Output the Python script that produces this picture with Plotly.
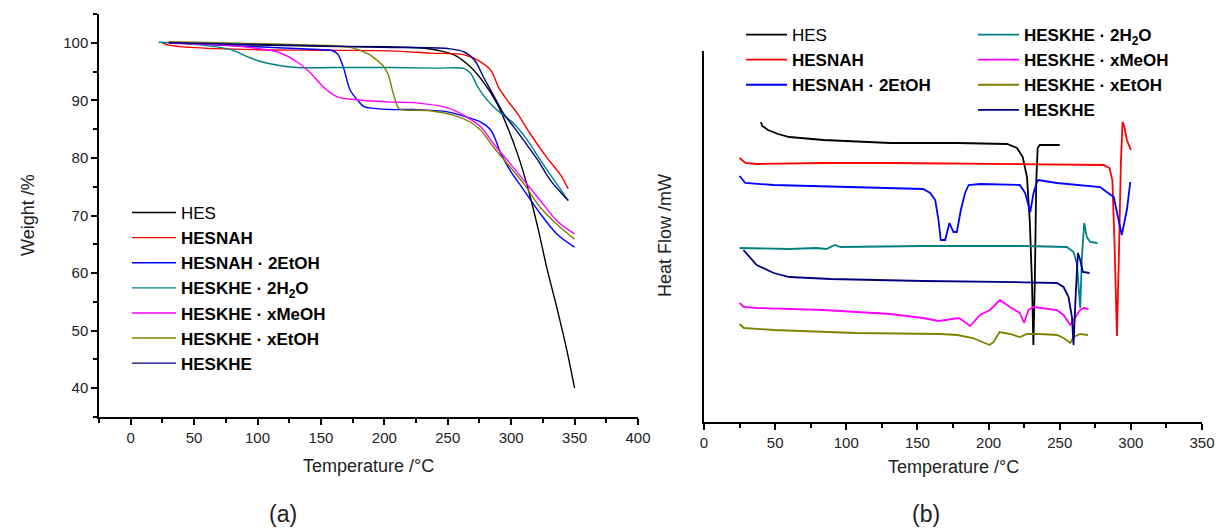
import plotly.graph_objects as go

W, H = 1216, 530

# ---------------- (a) TGA data: temperature (°C) / weight (%) ----------------
hes_T = [31, 60, 100, 150, 200, 230, 242, 255, 268, 278, 289, 297, 305, 313, 321, 328, 336, 344, 350]
hes_W = [100.0, 99.8, 99.6, 99.4, 99.3, 99.1, 98.7, 97.9, 95.8, 93.2, 89.4, 85.4, 80.7, 74.9, 67.9, 61.0, 54.0, 46.5, 40.0]

hesnah_T = [25, 30, 47, 100, 150, 205, 236, 263, 276, 284, 290, 297, 305, 315, 328, 339, 345]
hesnah_W = [100.0, 99.6, 99.2, 98.8, 98.7, 98.6, 98.2, 97.9, 96.7, 95.2, 92.3, 90.0, 87.7, 84.2, 80.1, 77.0, 74.6]

hesnah2etoh_T = [30, 100, 152, 158, 163, 168, 173, 179, 184, 192, 205, 223, 250, 265, 276, 284, 292, 299, 310, 323, 336, 350]
hesnah2etoh_W = [100.0, 99.3, 98.8, 98.7, 98.1, 95.5, 91.8, 90.0, 88.9, 88.6, 88.4, 88.4, 88.0, 87.1, 86.2, 84.8, 80.7, 77.9, 74.4, 70.3, 66.8, 64.5]

heskhe2h2o_T = [22, 40, 68, 79, 92, 103, 116, 131, 160, 205, 240, 263, 268, 273, 278, 286, 294, 302, 313, 323, 334, 345]
heskhe2h2o_W = [100.1, 99.9, 99.3, 98.8, 97.6, 96.7, 96.1, 95.7, 95.7, 95.7, 95.6, 95.5, 94.7, 92.6, 90.9, 88.9, 87.4, 86.0, 83.0, 79.6, 76.1, 72.6]

heskhemeoh_T = [30, 74, 100, 116, 131, 142, 152, 163, 179, 205, 223, 250, 265, 276, 286, 297, 310, 323, 336, 350]
heskhemeoh_W = [99.9, 99.6, 99.0, 98.4, 96.7, 94.7, 92.3, 90.6, 90.1, 89.7, 89.6, 88.7, 87.1, 85.4, 82.5, 79.6, 76.1, 72.6, 69.1, 66.8]

heskheetoh_T = [30, 126, 173, 187, 194, 199, 203, 207, 211, 213, 236, 255, 268, 276, 286, 297, 310, 323, 336, 350]
heskheetoh_W = [100.2, 99.7, 99.2, 98.1, 97.0, 96.0, 94.5, 91.2, 88.7, 88.4, 88.2, 87.4, 86.2, 84.8, 81.9, 79.0, 75.5, 71.4, 68.5, 65.9]

heskhe_T = [30, 126, 197, 250, 263, 271, 278, 286, 294, 302, 310, 321, 331, 345]
heskhe_W = [100.0, 99.6, 99.2, 99.0, 98.4, 97.0, 94.1, 90.9, 87.7, 85.4, 83.0, 79.6, 76.1, 72.6]

# ---------------- (b) DSC data: temperature (°C) / heat flow (arb. mW, offset) ----------------
d_hes_T = [40, 41, 45, 52, 60, 84, 131, 178, 213, 220, 224, 227, 229, 230.5, 231.5, 232.5, 233.5, 234.5, 236, 250]
d_hes_Q = [30.0, 29.6, 29.2, 28.8, 28.5, 28.2, 27.9, 27.9, 27.8, 27.4, 26.5, 24.5, 20.0, 14.0, 7.7, 14.0, 24.0, 27.4, 27.7, 27.7]

d_hesnah_T = [25, 29, 37, 84, 131, 178, 225, 270, 281, 285, 287, 288.5, 290.2, 291.5, 293, 294.2, 295.5, 297.2, 300]
d_hesnah_Q = [26.4, 25.9, 25.8, 25.9, 25.9, 25.85, 25.8, 25.75, 25.7, 25.4, 24.2, 18.0, 8.6, 16.0, 26.0, 30.0, 29.5, 28.2, 27.2]

d_hesnah2etoh_T = [25, 29, 49, 107, 154, 159, 162.5, 164.8, 166.4, 169.5, 172.5, 175.3, 177.7, 180.5, 183.5, 186, 194, 222, 225.7, 229.3,
                   231.6, 234, 235, 248, 278.5, 283, 288, 293.6, 297.2, 299.6]
d_hesnah2etoh_Q = [24.6, 23.9, 23.7, 23.5, 23.3, 22.9, 22.2, 20.2, 18.2, 18.2, 19.9, 19.0, 19.0, 21.2, 22.9, 23.7, 23.8, 23.7, 22.9, 21.0,
                   22.9, 24.0, 24.2, 23.9, 23.5, 23.0, 22.5, 18.7, 21.2, 24.0]

d_heskhe2h2o_T = [25, 60, 79, 86, 92, 96, 154, 225, 255, 259.7, 262, 264.4, 265.6, 267.2, 269, 271.4, 276.6]
d_heskhe2h2o_Q = [17.4, 17.3, 17.4, 17.3, 17.7, 17.5, 17.6, 17.6, 17.5, 17.0, 15.9, 11.4, 16.5, 19.9, 18.5, 18.0, 17.9]

d_heskhemeoh_T = [25, 28, 37, 84, 131, 154, 165, 179, 182.4, 187, 194, 201, 208, 215, 222, 225, 228, 231.6, 248, 252.7, 257.4, 264.4, 266.8, 270.3]
d_heskhemeoh_Q = [11.9, 11.5, 11.4, 11.2, 10.8, 10.4, 10.1, 10.4, 10.1, 9.6, 10.7, 11.2, 12.2, 11.5, 10.9, 9.9, 11.2, 11.5, 11.2, 10.7, 9.7, 11.2, 11.4, 11.3]

d_heskheetoh_T = [25, 28, 49, 107, 166, 178, 189, 196, 200.7, 203.5, 207.7, 215, 222, 227, 236, 248, 252.7, 257.4, 259.7, 264.4, 269.8]
d_heskheetoh_Q = [9.8, 9.4, 9.2, 8.9, 8.8, 8.7, 8.4, 8.0, 7.7, 8.0, 9.0, 8.8, 8.5, 8.8, 8.8, 8.7, 8.4, 7.9, 8.5, 8.8, 8.7]

d_heskhe_T = [27.7, 37, 49, 60, 89, 154, 225, 248, 252.7, 256.2, 258.6, 259.7, 261.4, 262.8, 264.4, 266.3, 271]
d_heskhe_Q = [17.2, 15.7, 14.9, 14.5, 14.3, 14.1, 13.97, 13.9, 13.5, 12.5, 10.5, 7.7, 13.2, 16.9, 16.2, 15.0, 14.9]

names = ["HES", "<b>HESNAH</b>", "<b>HESNAH · 2EtOH</b>", "<b>HESKHE · 2H<sub>2</sub>O</b>",
         "<b>HESKHE · xMeOH</b>", "<b>HESKHE · xEtOH</b>", "<b>HESKHE</b>"]
colors = ["#000000", "#ff0000", "#0000ff", "#008080", "#ff00ff", "#808000", "#000080"]

tga = [(hes_T, hes_W), (hesnah_T, hesnah_W), (hesnah2etoh_T, hesnah2etoh_W), (heskhe2h2o_T, heskhe2h2o_W),
       (heskhemeoh_T, heskhemeoh_W), (heskheetoh_T, heskheetoh_W), (heskhe_T, heskhe_W)]
dsc = [(d_hes_T, d_hes_Q), (d_hesnah_T, d_hesnah_Q), (d_hesnah2etoh_T, d_hesnah2etoh_Q), (d_heskhe2h2o_T, d_heskhe2h2o_Q),
       (d_heskhemeoh_T, d_heskhemeoh_Q), (d_heskheetoh_T, d_heskheetoh_Q), (d_heskhe_T, d_heskhe_Q)]

FONT = "Liberation Sans, Arial, sans-serif"
fig = go.Figure()

for i, (t, w) in enumerate(tga):
    fig.add_trace(go.Scatter(x=t, y=w, mode="lines", name=names[i], xaxis="x", yaxis="y",
                             line=dict(color=colors[i], width=1.4), legend="legend",
                             line_shape="spline"))

for i, (t, q) in enumerate(dsc):
    fig.add_trace(go.Scatter(x=t, y=q, mode="lines", name=names[i], xaxis="x2", yaxis="y2",
                             line=dict(color=colors[i], width=1.8),
                             legend="legend2" if i < 3 else "legend3"))

def px_x(p):
    return p / W

def px_y(p):
    return (H - p) / H

axis_common = dict(showline=True, linecolor="black", linewidth=1.5, mirror=False, showgrid=False,
                   zeroline=False, ticks="outside", tickcolor="black", tickwidth=1.5, automargin=False,
                   tickfont=dict(family=FONT, size=15, color="#222"))

LEG_FONT = dict(family=FONT, size=17, color="black")

fig.update_layout(
    width=W, height=H, margin=dict(l=0, r=0, t=0, b=0, pad=0, autoexpand=False),
    paper_bgcolor="white", plot_bgcolor="white",
    xaxis=dict(domain=[px_x(99), px_x(638)], range=[-25, 400], anchor="y", dtick=50, tick0=0, ticklen=6,
               minor=dict(dtick=25, tick0=0, ticklen=4, ticks="outside", tickcolor="black", tickwidth=1.5),
               **axis_common),
    yaxis=dict(domain=[px_y(417), px_y(14)], range=[35, 105], anchor="x", dtick=10, tick0=0, ticklen=6,
               minor=dict(dtick=5, tick0=0, ticklen=4, ticks="outside", tickcolor="black", tickwidth=1.5),
               **axis_common),
    xaxis2=dict(domain=[px_x(704), px_x(1202)], range=[0, 350], anchor="y2", dtick=50, tick0=0, ticklen=6,
                minor=dict(dtick=25, tick0=0, ticklen=4, ticks="outside", tickcolor="black", tickwidth=1.5),
                **axis_common),
    yaxis2=dict(domain=[px_y(422), px_y(51)], range=[0, 37.1], anchor="x2", showline=True, linecolor="black",
                linewidth=1.5, showgrid=False, zeroline=False, ticks="", showticklabels=False, automargin=False),
    legend=dict(x=px_x(127), y=px_y(195), xanchor="left", yanchor="top", bgcolor="rgba(0,0,0,0)",
                font=LEG_FONT, tracegroupgap=0, itemwidth=44),
    legend2=dict(x=px_x(741), y=px_y(17), xanchor="left", yanchor="top", bgcolor="rgba(0,0,0,0)",
                 font=LEG_FONT, itemwidth=41),
    legend3=dict(x=px_x(973), y=px_y(17), xanchor="left", yanchor="top", bgcolor="rgba(0,0,0,0)",
                 font=LEG_FONT, itemwidth=41),
    showlegend=True,
)

ann = dict(xref="paper", yref="paper", showarrow=False, font=dict(family=FONT, size=18, color="#222"))
fig.add_annotation(x=px_x(368), y=px_y(466), text="Temperature /°C", xanchor="center", yanchor="middle", **ann)
fig.add_annotation(x=px_x(953), y=px_y(467), text="Temperature /°C", xanchor="center", yanchor="middle", **ann)
fig.add_annotation(x=px_x(28), y=px_y(215), text="Weight /%", textangle=-90, xanchor="center", yanchor="middle", **ann)
fig.add_annotation(x=px_x(665), y=px_y(236), text="Heat Flow /mW", textangle=-90, xanchor="center", yanchor="middle", **ann)
fig.add_annotation(x=px_x(283), y=px_y(514), text="(a)", xanchor="center", yanchor="middle",
                   xref="paper", yref="paper", showarrow=False, font=dict(family=FONT, size=23, color="#222"))
fig.add_annotation(x=px_x(926), y=px_y(514), text="(b)", xanchor="center", yanchor="middle",
                   xref="paper", yref="paper", showarrow=False, font=dict(family=FONT, size=23, color="#222"))

fig.write_html("out.html", config={"displayModeBar": False, "responsive": False},
               default_width="1216px", default_height="530px",
               post_script="document.body.style.margin='0';document.body.style.overflow='hidden';")
